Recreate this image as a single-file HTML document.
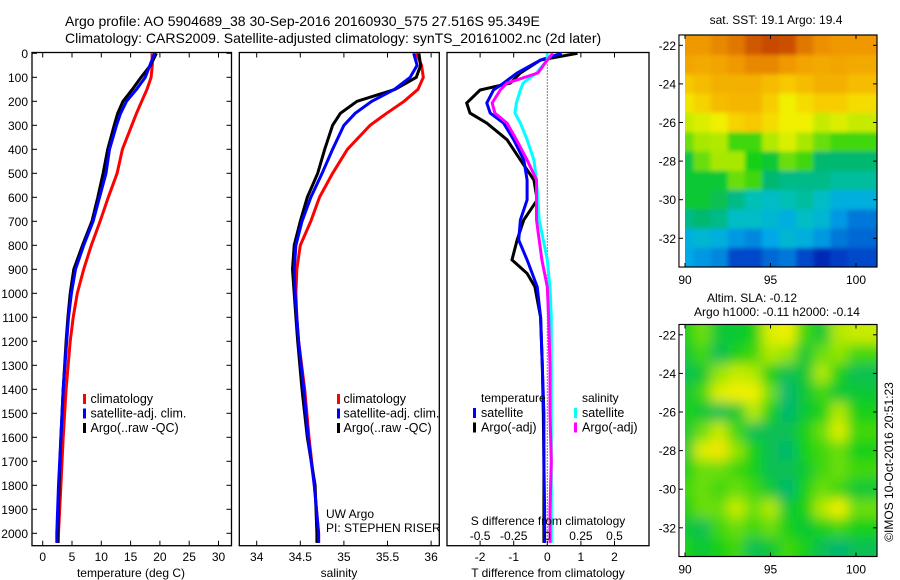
<!DOCTYPE html>
<html><head><meta charset="utf-8">
<style>
html,body{margin:0;padding:0;background:#fff;}
svg{display:block;font-family:"Liberation Sans",sans-serif;}
text{fill:#000;}
</style></head>
<body>
<svg id="fig" width="900" height="580" viewBox="0 0 900 580" xmlns="http://www.w3.org/2000/svg">
<defs>
<filter id="blurS" x="0" y="0" width="1" height="1"><feGaussianBlur stdDeviation="2" edgeMode="duplicate"/></filter>
<filter id="blurL" x="0" y="0" width="1" height="1"><feGaussianBlur stdDeviation="6" edgeMode="duplicate"/></filter>
<clipPath id="clipTop"><rect x="685" y="35" width="192" height="232"/></clipPath>
<clipPath id="clipBot"><rect x="685" y="324.5" width="192" height="232"/></clipPath>
</defs>
<rect x="0" y="0" width="900" height="580" fill="#fff"/>
<text x="65" y="26" font-size="14">Argo profile: AO 5904689_38 30-Sep-2016 20160930_575 27.516S 95.349E</text>
<text x="65" y="43" font-size="14">Climatology: CARS2009. Satellite-adjusted climatology: synTS_20161002.nc (2d later)</text>
<g id="g"></g>
</svg>
<script>
// ---------- data ----------
const depthTS = [0,50,100,150,200,250,300,400,500,600,700,800,900,1000,1100,1200,1400,1600,1800,2000,2040];
const tempClim = [18.65,18.7,18.5,17.8,16.9,16.0,15.2,13.6,12.7,11.2,9.8,8.3,7.0,5.9,5.2,4.7,4.0,3.5,3.1,2.7,2.65];
const tempSat  = [19.1,18.3,17.5,16.0,14.3,13.3,12.6,11.4,10.8,9.7,8.6,7.0,5.6,4.9,4.4,4.1,3.5,3.1,2.7,2.4,2.4];
const tempArgo = [19.4,18.4,16.8,15.3,13.7,12.8,12.2,11.1,10.3,9.4,8.4,6.8,5.3,4.7,4.3,4.0,3.5,3.1,2.8,2.6,2.6];
const salClim = [35.83,35.89,35.91,35.85,35.69,35.49,35.30,35.04,34.87,34.72,34.62,34.50,34.46,34.45,34.46,34.48,34.55,34.60,34.66,34.71,34.71];
const salSat  = [35.80,35.84,35.76,35.58,35.32,35.13,35.00,34.87,34.75,34.62,34.52,34.45,34.43,34.44,34.46,34.48,34.54,34.59,34.66,34.71,34.71];
const salArgo = [35.86,35.88,35.83,35.59,35.15,34.96,34.87,34.78,34.70,34.58,34.50,34.43,34.41,34.43,34.45,34.47,34.52,34.58,34.67,34.69,34.69];
const depthD = [0,28,82,124,153,207,249,291,360,444,528,611,694,778,861,917,973,1100,1300,1500,1700,1900,2040];
const dTArgo = [0.9,-0.2,-0.8,-1.1,-2.0,-2.4,-2.3,-1.8,-1.2,-0.8,-0.4,-0.3,-0.7,-0.9,-1.05,-0.6,-0.37,-0.2,-0.15,-0.12,-0.1,-0.1,-0.1];
const dTSat  = [0.43,-0.2,-0.9,-1.3,-1.6,-1.8,-1.7,-1.3,-1.0,-0.7,-0.6,-0.6,-0.8,-0.85,-0.6,-0.45,-0.3,-0.2,-0.15,-0.1,-0.1,-0.08,-0.08];
const dSArgo = [0.04,0,-0.07,-0.3,-0.35,-0.41,-0.39,-0.3,-0.23,-0.15,-0.08,-0.08,-0.08,-0.06,-0.04,-0.02,0,0.01,0.02,0.02,0.03,0.02,0.02];
const dSSat  = [0,0,-0.08,-0.18,-0.2,-0.23,-0.24,-0.2,-0.15,-0.1,-0.08,-0.07,-0.06,-0.03,0,0.01,0.02,0.03,0.03,0.03,0.03,0.03,0.03];
const depthTicks = [0,100,200,300,400,500,600,700,800,900,1000,1100,1200,1300,1400,1500,1600,1700,1800,1900,2000];
const tempTicks = [0,5,10,15,20,25,30];
const salTicks = [34,34.5,35,35.5,36];
const tdTicks = [-2,-1,0,1,2];
const sdTicks = [-0.5,-0.25,0,0.25,0.5];
const sdTickLabels = ["-0.5","-0.25","0","0.25","0.5"];
const lonTicks = [90,95,100];
const latTicks = [-22,-24,-26,-28,-30,-32];
// map grids: rows = lat -22..-33 (1 deg), cols = lon 90..100 (1 deg), normalized colour index
const sstGrid = [
[.78,.78,.80,.82,.86,.88,.87,.82,.79,.78,.78],
[.76,.75,.76,.78,.80,.80,.78,.76,.75,.76,.75],
[.70,.72,.74,.74,.74,.72,.70,.72,.74,.74,.72],
[.64,.68,.72,.73,.73,.69,.62,.66,.69,.69,.66],
[.58,.60,.62,.68,.70,.66,.62,.62,.58,.60,.58],
[.52,.55,.56,.50,.50,.56,.60,.55,.52,.50,.50],
[.45,.52,.55,.55,.48,.46,.52,.50,.42,.42,.42],
[.46,.46,.46,.52,.50,.42,.40,.40,.40,.38,.38],
[.46,.46,.44,.40,.36,.34,.36,.38,.34,.30,.30],
[.40,.42,.40,.34,.34,.32,.30,.34,.32,.26,.22],
[.30,.32,.30,.26,.24,.28,.32,.30,.26,.22,.20],
[.28,.26,.24,.16,.16,.20,.22,.16,.10,.14,.16]];
const slaGrid = [
[.48,.52,.46,.46,.48,.60,.62,.50,.46,.56,.58],
[.46,.50,.44,.48,.50,.56,.54,.46,.52,.54,.50],
[.44,.46,.54,.58,.56,.48,.44,.46,.56,.48,.44],
[.46,.50,.60,.62,.62,.52,.42,.46,.50,.46,.46],
[.48,.46,.44,.46,.56,.48,.42,.46,.48,.56,.48],
[.46,.52,.58,.50,.44,.44,.44,.48,.52,.60,.50],
[.46,.60,.64,.54,.48,.44,.42,.48,.50,.52,.48],
[.48,.52,.52,.50,.48,.44,.44,.46,.50,.52,.50],
[.50,.52,.50,.52,.50,.46,.42,.48,.52,.50,.46],
[.48,.52,.52,.58,.52,.56,.46,.48,.56,.62,.52],
[.46,.44,.50,.52,.50,.52,.48,.46,.48,.50,.48],
[.48,.46,.48,.50,.44,.46,.50,.48,.44,.42,.44]];

// ---------- helpers ----------
const NS="http://www.w3.org/2000/svg";
const G=document.getElementById('g');
function mk(tag,attrs,parent){const e=document.createElementNS(NS,tag);for(const k in attrs)e.setAttribute(k,attrs[k]);(parent||G).appendChild(e);return e;}
function txt(x,y,s,size,anchor){const t=mk('text',{x:x,y:y,'font-size':size||12,'text-anchor':anchor||'start'});t.textContent=s;return t;}
const yD=d=>53.3+0.24*d;
const xT=v=>42.7+5.86*v;
const xS=v=>256.7+87.2*(v-34);
const xTD=v=>547.3+33.6*v;
const xSD=v=>547.3+134.4*v;
const P1={x0:32,x1:231.5},P2={x0:239.3,x1:439.3},P3={x0:447,x1:649};
const Y0=52.5,Y1=545.7;

function frame(p,name){
  const r=mk('rect',{x:p.x0,y:Y0,width:p.x1-p.x0,height:Y1-Y0,fill:'none',stroke:'#000','stroke-width':1.3});
  
  
}
function line(xs,ds,xf,col,name,w){
  let d='';xs.forEach((v,i)=>{d+=(i?'L':'M')+xf(v).toFixed(1)+','+yD(ds[i]).toFixed(1);});
  const p=mk('path',{d:d,fill:'none',stroke:col,'stroke-width':w||3,'stroke-linejoin':'miter'});
  
  
}
function xticks(p,ticks,xf,labels,ly){
  ticks.forEach((t,i)=>{
    const x=xf(t);
    mk('line',{x1:x,y1:Y0,x2:x,y2:Y0+5,stroke:'#000'});
    mk('line',{x1:x,y1:Y1,x2:x,y2:Y1-5,stroke:'#000'});
    if(labels){const e=txt(x,ly,labels[i],12,'middle');
      
      }
  });
}
function legendMark(x,y,col){mk('rect',{x:x,y:y,width:3,height:10,fill:col});}

// ---------- panel 1: temperature ----------
frame(P1,'temperature-panel');
depthTicks.forEach(d=>{const y=yD(d);
  mk('line',{x1:P1.x0,y1:y,x2:P1.x0+5,y2:y,stroke:'#000'});
  mk('line',{x1:P1.x1,y1:y,x2:P1.x1-5,y2:y,stroke:'#000'});
  const e=txt(28,y+4.5,String(d),12,'end');
  
  
});
xticks(P1,tempTicks,xT,tempTicks.map(String),561);
line(tempClim,depthTS,xT,'#ff0000','temp-climatology-line');
line(tempArgo,depthTS,xT,'#000000','temp-argo-line');
line(tempSat,depthTS,xT,'#0000ff','temp-satellite-line');
{const e=txt(131,577,'temperature (deg C)',12,'middle');}
[['#ff0000','climatology'],['#0000ff','satellite-adj. clim.'],['#000000','Argo(..raw -QC)']].forEach((l,i)=>{
  legendMark(83,394+i*14.5,l[0]);
  const e=txt(90.5,403+i*14.5,l[1],12.5);
  
  
});

// ---------- panel 2: salinity ----------
frame(P2,'salinity-panel');
xticks(P2,salTicks,xS,salTicks.map(String),561);
line(salClim,depthTS,xS,'#ff0000','sal-climatology-line');
line(salArgo,depthTS,xS,'#000000','sal-argo-line');
line(salSat,depthTS,xS,'#0000ff','sal-satellite-line');
{const e=txt(339,577,'salinity',12,'middle');}
[['#ff0000','climatology'],['#0000ff','satellite-adj. clim.'],['#000000','Argo(..raw -QC)']].forEach((l,i)=>{
  legendMark(337,394+i*14.5,l[0]);
  const e=txt(343.5,403+i*14.5,l[1],12.5);
  
  
});
{const e=txt(326,518,'UW Argo',12);}
{const e=txt(326,532,'PI: STEPHEN RISER',12);}

// ---------- panel 3: differences ----------
frame(P3,'difference-panel');
xticks(P3,tdTicks,xTD,tdTicks.map(String),561);
mk('line',{x1:xTD(0),y1:Y0,x2:xTD(0),y2:Y1,stroke:'#000','stroke-width':1,'stroke-dasharray':'1,2'});
line(dTArgo,depthD,xTD,'#000000','tdiff-argo-line');
line(dTSat,depthD,xTD,'#0000ff','tdiff-satellite-line');
line(dSSat,depthD,xSD,'#00ffff','sdiff-satellite-line');
line(dSArgo,depthD,xSD,'#ff00ff','sdiff-argo-line');
sdTicks.forEach((t,i)=>{const e=txt(xSD(t),540,sdTickLabels[i],12,'middle');
  
  });
{const e=txt(548,525,'S difference from climatology',12,'middle');}
{const e=txt(548,577,'T difference from climatology',12,'middle');}
{const e=txt(481,402,'temperature',12);}
{const e=txt(582,402,'salinity',12);}
[['#0000ff','satellite',473],['#000000','Argo(-adj)',473],['#00ffff','satellite',574],['#ff00ff','Argo(-adj)',574]].forEach((l,i)=>{
  const y=408+(i%2)*14.5;
  legendMark(l[2],y,l[0]);
  const e=txt(l[2]+8,y+9,l[1],12.5);
  
  
});

// ---------- maps ----------
const stops=[[0,'#00008f'],[0.15,'#0040c8'],[0.28,'#00a8e8'],[0.35,'#00c0c0'],[0.42,'#00b870'],[0.48,'#18d018'],[0.55,'#a8e800'],[0.62,'#f0f000'],[0.70,'#f8c800'],[0.78,'#f09800'],[0.88,'#c84800'],[1,'#800000']];
function hex(h){return [1,3,5].map(i=>parseInt(h.substr(i,2),16));}
function cmap(v){for(let i=1;i<stops.length;i++){if(v<=stops[i][0]){const a=stops[i-1],b=stops[i];const f=(v-a[0])/(b[0]-a[0]);const c1=hex(a[1]),c2=hex(b[1]);return 'rgb('+c1.map((c,k)=>Math.round(c+(c2[k]-c)*f)).join(',')+')';}}return stops[stops.length-1][1];}
function drawMap(grid,oy,name,clip,filt){
  const fx0=679,fx1=877,fy0=oy,fy1=oy+232;
  const xL=l=>685+17.1*(l-90);
  const yL=l=>oy+10.3+19.3*(-22-l);
  const outer=mk('g',{'clip-path':'url(#'+clip+')'});
  const g=mk('g',{filter:'url(#'+filt+')'},outer);
  
  
  grid.forEach((row,r)=>row.forEach((v,c)=>{
    const lat=-22-r, lon=90+c;
    const x0=c===0?675:xL(lon-0.5), x1=c===row.length-1?fx1+10:xL(lon+0.5);
    const y0=r===0?fy0-10:yL(lat+0.5), y1=r===grid.length-1?fy1+10:yL(lat-0.5);
    const cell=mk('rect',{x:x0.toFixed(1),y:y0.toFixed(1),width:(x1-x0+0.6).toFixed(1),height:(y1-y0+0.6).toFixed(1),fill:cmap(v)},g);
    
    
  }));
  mk('rect',{x:fx0,y:fy0,width:fx1-fx0,height:fy1-fy0,fill:'none',stroke:'#000','stroke-width':1.2});
  mk('rect',{x:fx0+0.6,y:fy0+0.6,width:5.4,height:fy1-fy0-1.2,fill:'#fff'});
  latTicks.forEach(l=>{const y=yL(l);
    mk('line',{x1:fx0,y1:y,x2:fx0+4,y2:y,stroke:'#000'});
    mk('line',{x1:fx1,y1:y,x2:fx1-4,y2:y,stroke:'#000'});
    const e=txt(676,y+4.5,String(l),12,'end');
    
    
  });
  lonTicks.forEach(l=>{const x=xL(l);
    mk('line',{x1:x,y1:fy0,x2:x,y2:fy0+4,stroke:'#000'});
    mk('line',{x1:x,y1:fy1,x2:x,y2:fy1-4,stroke:'#000'});
    const e=txt(x,fy1+17,String(l),12,'middle');
    
    
  });
}
drawMap(sstGrid,35,'sst-map','clipTop','blurS');
drawMap(slaGrid,324.5,'sla-map','clipBot','blurL');
{const e=txt(776,24,'sat. SST: 19.1 Argo: 19.4',12,'middle');}
{const e=txt(752,302,'Altim. SLA: -0.12',12,'middle');}
{const e=txt(777,316,'Argo h1000: -0.11 h2000: -0.14',12,'middle');}
{const e=txt(0,0,'©IMOS 10-Oct-2016 20:51:23',12,'middle');e.setAttribute('transform','translate(893,462) rotate(-90)');}
</script>
</body></html>
